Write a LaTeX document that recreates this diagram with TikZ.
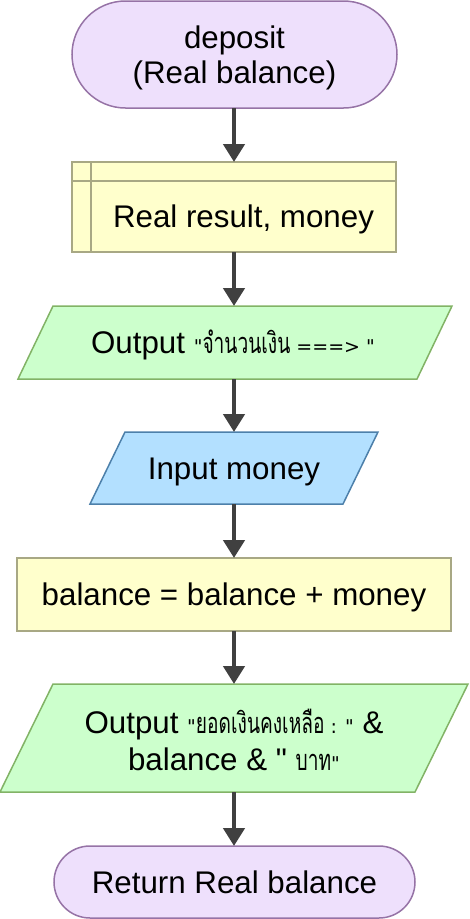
\documentclass[tikz,border=0pt]{standalone}
\usepackage{fontspec}
\setmainfont{Liberation Sans}
\newfontfamily\lgfont{Liberation Sans}
\newfontfamily\thaifont[Script=Thai,FakeStretch=0.66]{Loma}
\newfontfamily\smlatin{DejaVu Sans}
\usetikzlibrary{arrows.meta,shapes.misc,calc,backgrounds}

\definecolor{termfill}{HTML}{EEE0FC}
\definecolor{termline}{HTML}{9673A6}
\definecolor{yfill}{HTML}{FFFFCC}
\definecolor{yline}{HTML}{A8A884}
\definecolor{gfill}{HTML}{CCFFCC}
\definecolor{gline}{HTML}{82B366}
\definecolor{bfill}{HTML}{B3E0FF}
\definecolor{bline}{HTML}{4D80AA}
\definecolor{arr}{HTML}{404040}

\newcommand{\mylg}{\lgfont\fontsize{31.3}{35}\selectfont}
\newcommand{\mysm}{\smlatin\fontsize{19}{22}\selectfont}
\newcommand{\mythai}{\thaifont\fontsize{29}{30}\selectfont}

\tikzset{
  shapebox/.style={inner sep=0pt, outer sep=0pt},
  term/.style={shapebox, rounded rectangle, draw=termline, fill=termfill, line width=1.5pt},
  procbox/.style={shapebox, rectangle, draw=yline, fill=yfill, line width=1.5pt},
  txt/.style={inner sep=0pt, outer sep=0pt, align=center, font=\mylg},
  onetxt/.style={txt, text height=23pt, text depth=7pt},
  flow/.style={draw=arr, line width=4.5pt, -{Triangle[length=18pt,width=21pt]}},
}

\begin{document}
\begin{tikzpicture}[x=1pt,y=-1pt]
\useasboundingbox (0,0) rectangle (469,919);

% shapes
\node[term, minimum width=325pt, minimum height=107pt] (start) at (234.5,54.5) {};
\node[procbox, minimum width=324pt, minimum height=90pt] (sub) at (234,207) {};
\coordinate (subv) at (91,162);
\coordinate (subh) at (72,181);
\draw[yline, line width=1.5pt] (subv) -- (subv |- sub.south);
\draw[yline, line width=1.5pt] (subh) -- (subh -| sub.east);
\node[shapebox, minimum width=364pt, minimum height=73pt] (out1) at (235,342.5) {};
\node[shapebox, minimum width=218pt, minimum height=72pt] (inp) at (234,468) {};
\node[procbox, minimum width=434pt, minimum height=73pt] (proc) at (234,594.5) {};
\node[shapebox, minimum width=362pt, minimum height=108pt] (out2) at (234,738) {};
\node[term, minimum width=361pt, minimum height=72pt] (ret) at (234.5,882) {};

\begin{scope}[on background layer]
\draw[draw=gline, fill=gfill, line width=1.5pt]
  ($(out1.south west)+(-35,0)$) -- (out1.north west) -- ($(out1.north east)+(35,0)$) -- (out1.south east) -- cycle;
\draw[draw=bline, fill=bfill, line width=1.5pt]
  ($(inp.south west)+(-35,0)$) -- (inp.north west) -- ($(inp.north east)+(35,0)$) -- (inp.south east) -- cycle;
\draw[draw=gline, fill=gfill, line width=1.5pt]
  ($(out2.south west)+(-53,0)$) -- (out2.north west) -- ($(out2.north east)+(53,0)$) -- (out2.south east) -- cycle;
\end{scope}

% texts
\node[txt] (starttxt) at ($(start.center)+(0,3)$) {deposit\\(Real balance)};
\node[onetxt] (subtxt) at (243.5,219) {Real result, money};
\node[onetxt] (out1txt) at ($(out1.center)+(-2,3)$)
  {Output {\mysm"{\mythai จำนวนเงิน} ===> "}};
\node[onetxt] (inptxt) at ($(inp.center)+(0,3)$) {Input money};
\node[onetxt] (proctxt) at ($(proc.center)+(0,2.5)$) {balance = balance + money};
\node[txt, font=\lgfont\fontsize{31.3}{37}\selectfont] (out2txt) at ($(out2.center)+(0,1.5)$)
  {Output {\mysm"{\mythai ยอดเงินคงเหลือ} : "} \&\\ balance \& " {\mysm{\mythai บาท}"}};
\node[onetxt] (rettxt) at ($(ret.center)+(0,3)$) {Return Real balance};

% connectors
\coordinate (ax) at (234,0);
\draw[flow] (ax |- start.south) -- (ax |- sub.north);
\draw[flow] (ax |- sub.south) -- (ax |- out1.north);
\draw[flow] (ax |- out1.south) -- (ax |- inp.north);
\draw[flow] (ax |- inp.south) -- (ax |- proc.north);
\draw[flow] (ax |- proc.south) -- (ax |- out2.north);
\draw[flow] (ax |- out2.south) -- (ax |- ret.north);
\end{tikzpicture}
\end{document}
